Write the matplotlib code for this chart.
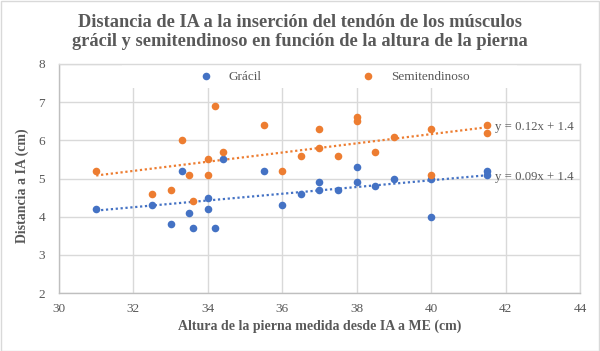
import numpy as np
import matplotlib
matplotlib.use("Agg")
import matplotlib.pyplot as plt
from matplotlib.patches import Rectangle

# ---- data ----
altura = [31, 34.2, 33.3, 34.4, 34, 33.5, 34, 32.5, 33, 33.6,
          35.5, 36, 36.5, 37, 37, 37.5, 38, 38, 38.5, 39,
          40, 40, 41.5, 41.5]
semitendinoso = [5.2, 6.9, 6.0, 5.7, 5.5, 5.1, 5.1, 4.6, 4.7, 4.4,
                 6.4, 5.2, 5.6, 6.3, 5.8, 5.6, 6.6, 6.5, 5.7, 6.1,
                 6.3, 5.1, 6.4, 6.2]
gracil = [4.2, 3.7, 5.2, 5.5, 4.5, 4.1, 4.2, 4.3, 3.8, 3.7,
          5.2, 4.3, 4.6, 4.9, 4.7, 4.7, 5.3, 4.9, 4.8, 5.0,
          5.0, 4.0, 5.2, 5.1]
series_names = ["Grácil", "Semitendinoso"]
eq_labels = ["y = 0.09x + 1.4", "y = 0.12x + 1.4"]
x_ticks = [30, 32, 34, 36, 38, 40, 42, 44]
y_ticks = [2, 3, 4, 5, 6, 7, 8]
title = "Distancia de IA a la inserción del tendón de los músculos\ngrácil y semitendinoso en función de la altura de la pierna"
xlabel = "Altura de la pierna medida desde IA a ME (cm)"
ylabel = "Distancia a IA (cm)"

BLUE = "#4472C4"
ORANGE = "#ED7D31"
GRAY_TXT = "#595959"
GRID = "#D9D9D9"

plt.rcParams['font.family'] = ['Liberation Serif', 'DejaVu Serif']

fig = plt.figure(figsize=(6.0, 3.51), dpi=100)
ax = fig.add_axes([59/600, 1-293/351, 521/600, 229/351])

x = np.array(altura)
h1 = ax.scatter(x, gracil, s=30, color=BLUE, zorder=4, linewidths=0, label=series_names[0])
h2 = ax.scatter(x, semitendinoso, s=30, color=ORANGE, zorder=4, linewidths=0, label=series_names[1])

xs = np.array([x.min(), x.max()])
for ys, col in [(gracil, BLUE), (semitendinoso, ORANGE)]:
    m, b = np.polyfit(x, ys, 1)
    ax.plot(xs, m*xs + b, linestyle=(0, (1, 1.2)), color=col, lw=1.6, zorder=3)

ax.text(41.72, 5.03, eq_labels[0], fontsize=9.2, color=GRAY_TXT, va='center', ha='left', zorder=6)
ax.text(41.72, 6.36, eq_labels[1], fontsize=9.2, color=GRAY_TXT, va='center', ha='left', zorder=6)

ax.set_xlim(30, 44)
ax.set_ylim(2, 8)
ax.set_xticks(x_ticks)
ax.set_yticks(y_ticks)
ax.grid(True, color=GRID, lw=1, zorder=0)
ax.set_axisbelow(True)
ax.tick_params(length=0, labelsize=9.5, labelcolor=GRAY_TXT)
ax.tick_params(axis='x', pad=7)
ax.tick_params(axis='y', pad=10)
for s in ['top', 'right']:
    ax.spines[s].set_color(GRID)
    ax.spines[s].set_linewidth(1)
for s in ['left', 'bottom']:
    ax.spines[s].set_color("#BFBFBF")
    ax.spines[s].set_linewidth(1)

# white legend area covering top gridlines
ax.add_patch(Rectangle((0.12, 0.8945), 0.76, 0.1, transform=ax.transAxes,
                       facecolor='white', edgecolor='none', zorder=1))
leg = ax.legend(handles=[h1, h2], ncol=2, frameon=False, fontsize=9.5,
                loc='center left', bbox_to_anchor=((199.5-59)/521, 0.9445),
                borderaxespad=0, borderpad=0, handlelength=1.0,
                handletextpad=1.2, columnspacing=7.6, scatterpoints=1)
for t in leg.get_texts():
    t.set_color(GRAY_TXT)

fig.text(0.5, 1-32/351, title, ha='center', va='center', fontsize=13.2,
         fontweight='bold', color=GRAY_TXT, linespacing=1.1)
fig.text(320/600, 1-326/351, xlabel, ha='center', va='center', fontsize=10,
         fontweight='bold', color=GRAY_TXT)
fig.text(22.7/600, 1-186/351, ylabel, ha='center', va='center', fontsize=10,
         fontweight='bold', color=GRAY_TXT, rotation=90)

fig.patches.append(Rectangle((0.001, 0.001), 0.998, 0.997, transform=fig.transFigure,
                             facecolor='none', edgecolor=GRID, lw=1))

fig.savefig("out.png", dpi=100)
